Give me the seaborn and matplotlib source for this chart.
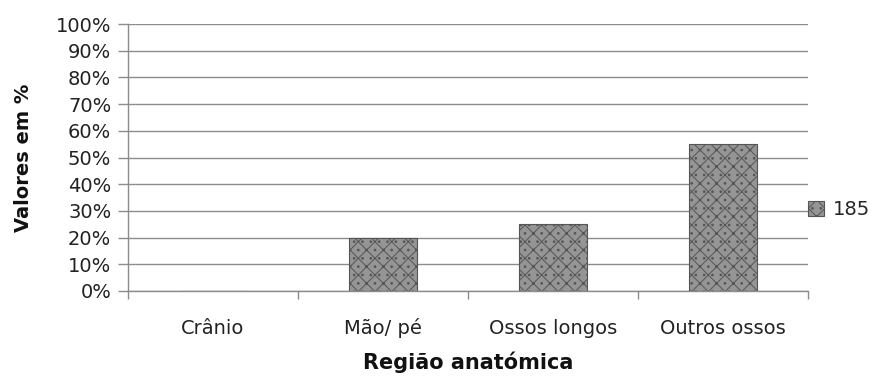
import matplotlib
matplotlib.use("Agg")
import matplotlib.pyplot as plt
import seaborn as sns
import pandas as pd
import numpy as np
from matplotlib.ticker import FixedLocator, PercentFormatter

categories = ["Crânio", "Mão/ pé", "Ossos longos", "Outros ossos"]
values = [0, 20, 25, 55]
series_name = "185"
yticks = list(range(0, 101, 10))

df = pd.DataFrame({"Região": categories, "Valor": values, "Série": series_name})

sns.set_theme(style="white")
plt.rcParams['font.family'] = ['DejaVu Sans']
plt.rcParams['hatch.color'] = '#3a3a3a'
plt.rcParams['hatch.linewidth'] = 0.7

fig = plt.figure(figsize=(8.71, 3.76), dpi=100)
ax = fig.add_axes([128/871, 1-291/376, (808-128)/871, (291-24)/376])

sns.barplot(data=df, x="Região", y="Valor", hue="Série", ax=ax,
            palette=["#959595"], width=0.4, edgecolor="#555555", linewidth=0.8,
            legend=True)
for p in ax.patches:
    p.set_hatch("xx..")

ax.set_ylim(0, 100)
ax.set_xlim(-0.5, 3.5)
ax.set_yticks(yticks)
ax.yaxis.set_major_formatter(PercentFormatter(decimals=0))
ax.grid(axis="y", color="#8c8c8c", linewidth=1)
ax.set_axisbelow(True)

for s in ["top", "right"]:
    ax.spines[s].set_visible(False)
for s in ["left", "bottom"]:
    ax.spines[s].set_color("#8c8c8c")
    ax.spines[s].set_linewidth(1)

ax.tick_params(axis="y", which="major", left=True, length=7, width=1, color="#8c8c8c",
               labelsize=14, labelcolor="#222222", pad=5)
ax.tick_params(axis="x", which="major", bottom=False, length=0, labelsize=14,
               labelcolor="#222222", pad=31)
for t in ax.get_xticklabels():
    t.set_va("baseline")
ax.xaxis.set_minor_locator(FixedLocator([-0.5, 0.5, 1.5, 2.5, 3.5]))
ax.tick_params(axis="x", which="minor", bottom=True, length=6, width=1, color="#8c8c8c")

ax.set_xlabel("Região anatómica", fontsize=15, fontweight="bold", color="#111111")
ax.xaxis.label.set_va("baseline")
ax.xaxis.set_label_coords(0.5, -78/267)
ax.set_ylabel("Valores em %", fontsize=14, fontweight="bold", color="#111111")
ax.yaxis.set_label_coords(-95/680, 0.5)

leg = ax.legend(loc="center left", bbox_to_anchor=(1.0, 0.305), frameon=False,
                fontsize=14, handlelength=0.8, handleheight=0.8, handletextpad=0.5,
                borderaxespad=0.0, borderpad=0.0)

fig.savefig("out.png", dpi=100)
